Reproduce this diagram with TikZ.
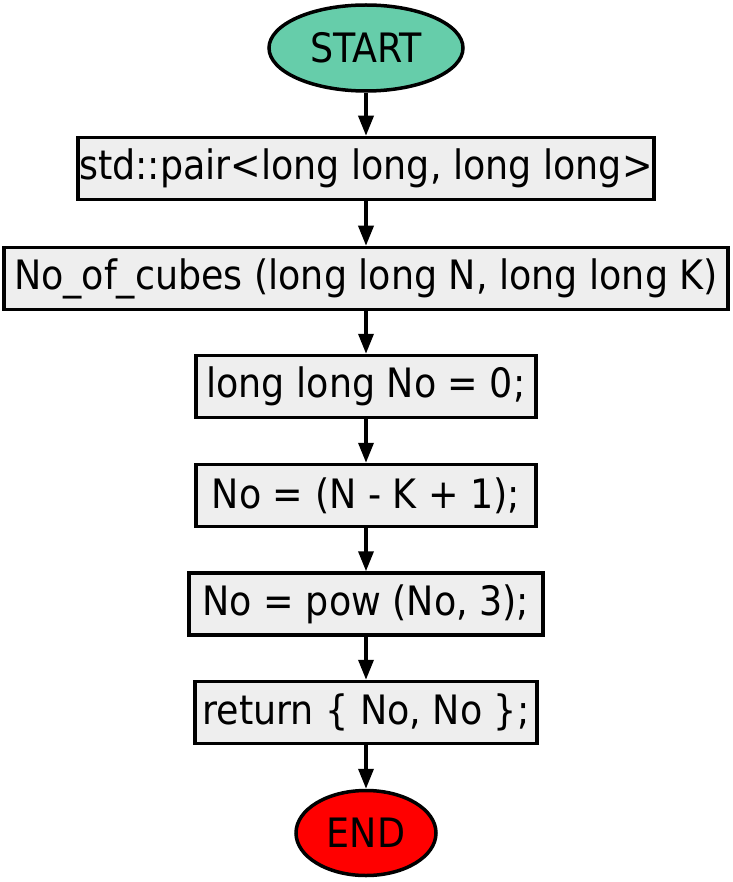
\documentclass[tikz,border=0pt]{standalone}
\usepackage{fontspec}
\setmainfont{DejaVu Sans Condensed}
\usepackage{tikz}
\usetikzlibrary{shapes.geometric, arrows.meta, positioning}
\definecolor{startgreen}{RGB}{102, 205, 170}
\definecolor{endred}{RGB}{255, 0, 0}
\definecolor{boxgray}{RGB}{238, 238, 238}
\tikzstyle{terminal} = [ellipse, draw=black, line width=3.5pt, text centered, font=\fontsize{40.5}{42}\selectfont, inner sep=0pt]
\tikzstyle{process} = [rectangle, draw=black, line width=3.5pt, fill=boxgray, minimum height=62pt, text centered, inner sep=0pt, font=\fontsize{40.5}{42}\selectfont]
\tikzstyle{arrow} = [line width=3.5pt, -{Triangle[length=20pt, width=15pt]}]

\begin{document}
\begin{tikzpicture}[x=1pt, y=1pt]
    \useasboundingbox (0,0) rectangle (732,-882);

    % Start and end
    \node[terminal, fill=startgreen, minimum width=194pt, minimum height=86pt] (start) at (366,-48) {START};
    \node[terminal, fill=endred, minimum width=140pt, minimum height=85pt] (end) at (366,-833) {END};

    % Statements
    \node[process, minimum width=576pt] (pair) at (366,-168.5) {std::pair<long long, long long>};
    \node[process, minimum width=724pt] (func) at (366,-278.5) {No\_of\_cubes (long long N, long long K)};
    \node[process, minimum width=340pt] (decl) at (366,-386.5) {long long No = 0;};
    \node[process, minimum width=340pt] (calc) at (366,-495.5) {No = (N - K + 1);};
    \node[process, minimum width=354pt] (cube) at (366,-604) {No = pow (No, 3);};
    \node[process, minimum width=342pt] (ret) at (366,-712.5) {return \{ No, No \};};

    % Flow
    \draw[arrow] (start) -- (pair);
    \draw[arrow] (pair) -- (func);
    \draw[arrow] (func) -- (decl);
    \draw[arrow] (decl) -- (calc);
    \draw[arrow] (calc) -- (cube);
    \draw[arrow] (cube) -- (ret);
    \draw[arrow] (ret) -- (end);
\end{tikzpicture}
\end{document}
